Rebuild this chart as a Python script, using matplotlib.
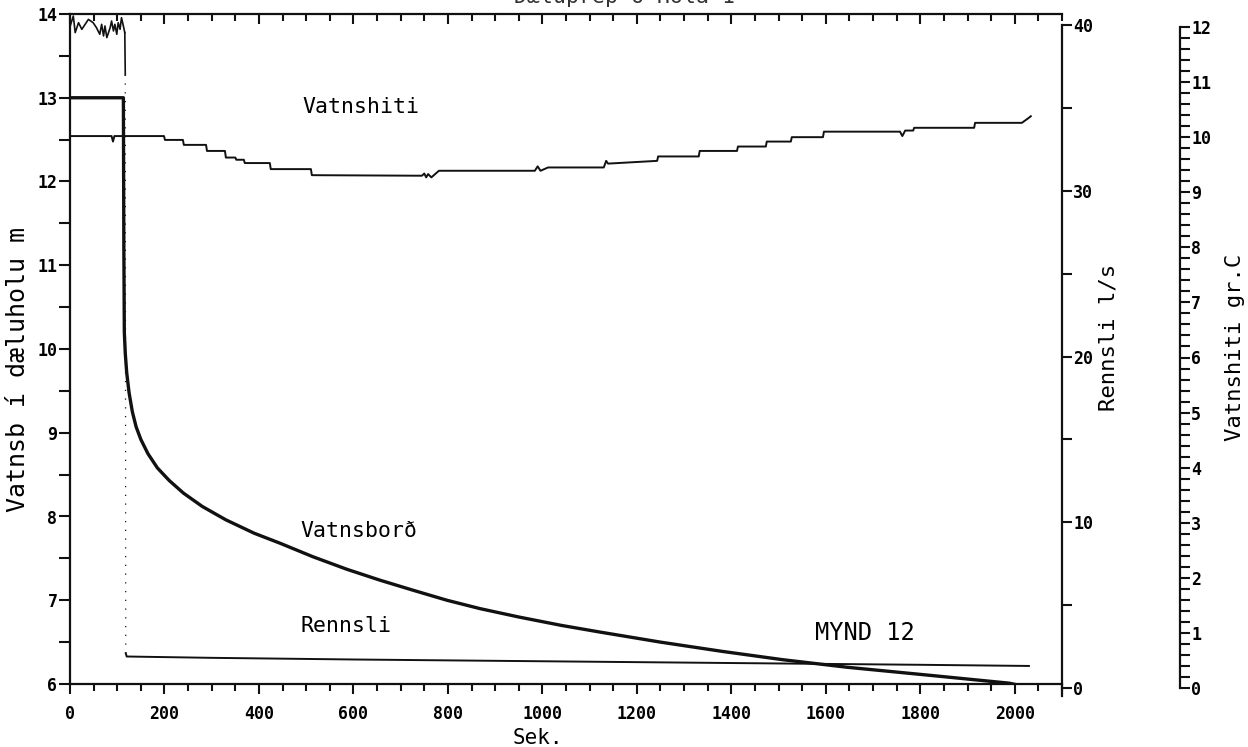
import matplotlib
matplotlib.use("Agg")
import matplotlib.pyplot as plt
from matplotlib.ticker import MultipleLocator, FixedLocator

# --- Vatnsborð (water level in pumping well, m) ---
level_t = [0, 113, 114, 115, 117, 120, 125, 132, 140, 150, 165, 185, 210, 240,
           280, 330, 390, 445, 514, 586, 656, 726, 798, 868, 950, 1040, 1122,
           1250, 1380, 1509, 1645, 1827, 1988, 2021, 2030]
level_m = [13.0, 13.0, 11.2, 10.2, 9.95, 9.72, 9.48, 9.25, 9.07, 8.92, 8.75,
           8.58, 8.43, 8.28, 8.12, 7.96, 7.8, 7.68, 7.52, 7.37, 7.24, 7.12,
           7.0, 6.9, 6.8, 6.7, 6.62, 6.5, 6.39, 6.29, 6.2, 6.1, 6.01, 5.97,
           5.96]

# --- Rennsli (flow, l/s) ---
flow_pre_t = [0, 7, 11, 18, 25, 39, 49, 56, 63, 67, 71, 74, 78, 85, 88, 92, 95,
              99, 102, 106, 109, 113, 116]
flow_pre_q = [39.9, 40.54, 39.54, 40.14, 39.74, 40.34, 40.14, 39.84, 39.44,
              40.04, 39.34, 39.94, 39.24, 39.84, 40.24, 39.64, 40.04, 39.44,
              40.14, 39.74, 40.44, 39.94, 39.54]
flow_t = [118, 120, 300, 600, 900, 1200, 1500, 1800, 2030]
flow_q = [2.1, 1.9, 1.82, 1.72, 1.64, 1.56, 1.48, 1.40, 1.33]

# --- Vatnshiti (water temperature, gr.C) ---
temp_t = [0, 88, 91, 94, 199, 201, 239, 241, 288, 290, 328, 330, 350, 352,
          368, 370, 423, 425, 510, 512, 745, 750, 754, 758, 765, 781, 984,
          990, 996, 1012, 1130, 1135, 1139, 1243, 1245, 1331, 1333, 1412,
          1414, 1473, 1475, 1526, 1528, 1594, 1596, 1757, 1762, 1768, 1785,
          1787, 1914, 1916, 2015, 2028, 2034]
temp_c = [10.02, 10.02, 9.92, 10.02, 10.02, 9.95, 9.95, 9.86, 9.86, 9.75,
          9.75, 9.63, 9.63, 9.59, 9.59, 9.53, 9.53, 9.42, 9.42, 9.31, 9.30,
          9.34, 9.27, 9.33, 9.27, 9.39, 9.39, 9.47, 9.39, 9.45, 9.45, 9.57,
          9.52, 9.57, 9.65, 9.65, 9.75, 9.75, 9.83, 9.83, 9.92, 9.92, 10.0,
          10.0, 10.1, 10.1, 10.02, 10.12, 10.12, 10.17, 10.17, 10.26, 10.26,
          10.34, 10.38]

x_major = list(range(0, 2001, 200))
level_major = list(range(6, 15))
flow_major = [0, 10, 20, 30, 40]
temp_major = list(range(0, 13))

MONO = "DejaVu Sans Mono"
W, H = 1248, 747
fig = plt.figure(figsize=(W / 100, H / 100), dpi=100)


def box(x0, y0, x1, y1):
    return [x0 / W, 1 - y1 / H, (x1 - x0) / W, (y1 - y0) / H]


def center_label(axis, x, y):
    axis.set_label_coords(x, y)
    axis.label.set_verticalalignment("center")
    axis.label.set_horizontalalignment("center")
    axis.label.set_rotation_mode("anchor")


ink = "#111111"
TICK_FS = 12

# main axes: water level against time
ax = fig.add_axes(box(70, 14, 1062, 684))
ax.set_xlim(0, 2100)
ax.set_ylim(6, 14)
ax.spines["right"].set_visible(False)
for s in ("left", "top", "bottom"):
    ax.spines[s].set_linewidth(1.6)
    ax.spines[s].set_color(ink)
ax.xaxis.set_major_locator(FixedLocator(x_major))
ax.xaxis.set_minor_locator(MultipleLocator(50))
ax.yaxis.set_major_locator(FixedLocator(level_major))
ax.yaxis.set_minor_locator(MultipleLocator(0.5))
ax.tick_params(axis="x", which="both", top=True, bottom=True, direction="out",
               width=1.5, color=ink)
ax.tick_params(axis="x", which="major", length=7, pad=8)
ax.tick_params(axis="x", which="minor", length=5)
ax.tick_params(axis="y", which="both", direction="out", length=8, width=1.5,
               color=ink, pad=1)
# top ticks hang inward from the frame
for t in ax.xaxis.get_major_ticks() + ax.xaxis.get_minor_ticks():
    t.tick2line.set_marker(3)
for lab in ax.get_xticklabels() + ax.get_yticklabels():
    lab.set_fontfamily(MONO)
    lab.set_fontweight("bold")
    lab.set_fontsize(TICK_FS)
ax.set_xlabel("Sek.", fontfamily=MONO, fontsize=15)
ax.xaxis.set_label_coords(0.472, -0.066)
ax.set_ylabel("Vatnsb í dæluholu m", fontfamily=MONO, fontsize=18)
center_label(ax.yaxis, -0.0525, 0.469)

ax.plot(level_t, level_m, color=ink, lw=2.4, solid_capstyle="butt")

ax.text(493, 12.89, "Vatnshiti", fontfamily=MONO, fontsize=15.5, va="center")
ax.text(487, 7.83, "Vatnsborð", fontfamily=MONO, fontsize=15.5, va="center")
ax.text(487, 6.69, "Rennsli", fontfamily=MONO, fontsize=15.5, va="center")
ax.text(1577, 6.61, "MYND 12", fontfamily=MONO, fontsize=17, va="center")
fig.text(0.5, 1.004, "Dæluþrep 6 Hola 1", fontfamily=MONO, fontsize=15.5,
         ha="center", va="center", color="#333333")

# flow axis on the right
ax2 = fig.add_axes(box(70, 25, 1062, 688))
ax2.patch.set_visible(False)
ax2.set_xlim(0, 2100)
ax2.set_ylim(0, 40)
for s in ("left", "top", "bottom"):
    ax2.spines[s].set_visible(False)
ax2.spines["right"].set_linewidth(1.6)
ax2.spines["right"].set_color(ink)
ax2.spines["right"].set_bounds(-0.5, 40)
ax2.set_xticks([])
ax2.yaxis.tick_right()
ax2.yaxis.set_label_position("right")
ax2.yaxis.set_major_locator(FixedLocator(flow_major))
ax2.yaxis.set_minor_locator(MultipleLocator(5))
ax2.tick_params(axis="y", which="both", direction="out", length=7, width=1.5,
                color=ink, pad=1)
for lab in ax2.get_yticklabels():
    lab.set_fontfamily(MONO)
    lab.set_fontweight("bold")
    lab.set_fontsize(TICK_FS)
ax2.set_ylabel("Rennsli l/s", fontfamily=MONO, fontsize=16)
center_label(ax2.yaxis, (1108 - 70) / 992, 0.528)

ax2.plot(flow_pre_t, flow_pre_q, color=ink, lw=1.2, clip_on=False)
ax2.plot([flow_pre_t[-1], flow_pre_t[-1] + 1], [flow_pre_q[-1], 37.0],
         color=ink, lw=1.2)
ax2.plot([flow_pre_t[-1] + 1, flow_t[0]], [37.0, flow_q[0]], color=ink,
         lw=0.9, ls=(0, (1, 6)))
ax2.plot(flow_t, flow_q, color=ink, lw=1.4)

# temperature drawn in the plot area against its own scale
ax_t = fig.add_axes(box(70, 27, 1062, 688))
ax_t.set_xlim(0, 2100)
ax_t.set_ylim(0, 12)
ax_t.axis("off")
ax_t.plot(temp_t, temp_c, color=ink, lw=1.4)

# separate temperature scale
ax3 = fig.add_axes(box(1170, 27, 1180, 688))
ax3.patch.set_visible(False)
ax3.set_ylim(0, 12)
for s in ("left", "top", "bottom"):
    ax3.spines[s].set_visible(False)
ax3.spines["right"].set_linewidth(1.6)
ax3.spines["right"].set_color(ink)
ax3.set_xticks([])
ax3.yaxis.tick_right()
ax3.yaxis.set_label_position("right")
ax3.yaxis.set_major_locator(FixedLocator(temp_major))
ax3.yaxis.set_minor_locator(MultipleLocator(0.2))
ax3.tick_params(axis="y", which="both", direction="out", length=7, width=1.5,
                color=ink, pad=1)
for lab in ax3.get_yticklabels():
    lab.set_fontfamily(MONO)
    lab.set_fontweight("bold")
    lab.set_fontsize(TICK_FS)
ax3.set_ylabel("Vatnshiti gr.C", fontfamily=MONO, fontsize=16)
center_label(ax3.yaxis, 6.5, 0.516)

fig.savefig("out.png", dpi=100)
